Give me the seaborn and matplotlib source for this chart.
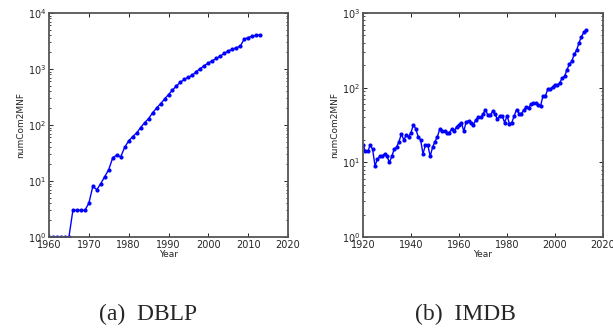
import numpy as np
import pandas as pd
import matplotlib
matplotlib.use("Agg")
import matplotlib.pyplot as plt
import seaborn as sns

dblp_years = list(range(1960, 2014))
dblp_vals = [1, 1, 1, 1, 1, 1, 3, 3, 3, 3,
             4, 8, 7, 9, 12, 16, 26, 29, 27, 40,
             52, 62, 72, 90, 110, 130, 165, 200, 240, 290,
             350, 420, 500, 580, 660, 710, 780, 900, 1020, 1150,
             1280, 1400, 1550, 1700, 1900, 2100, 2250, 2400, 2550, 3400,
             3650, 3850, 4000, 4100]

imdb_years = list(range(1920, 2014))
imdb_vals = [17, 14, 14, 17, 15, 9, 11, 12, 12, 13,
             12, 10, 12, 15, 16, 19, 24, 20, 23, 22,
             25, 32, 28, 22, 20, 13, 17, 17, 12, 16,
             19, 22, 28, 26, 26, 25, 25, 28, 26, 30,
             32, 34, 26, 35, 36, 34, 32, 37, 40, 40,
             44, 51, 43, 43, 48, 44, 38, 42, 42, 34,
             42, 33, 34, 42, 51, 45, 45, 50, 55, 54,
             60, 62, 62, 59, 57, 78, 78, 95, 95, 102,
             110, 108, 116, 135, 142, 175, 205, 225, 280, 317,
             400, 480, 550, 585]

captions = ["(a)  DBLP", "(b)  IMDB"]

sns.set_theme(style="white")
plt.rcParams['font.family'] = ['DejaVu Sans']

fig = plt.figure(figsize=(6.13, 3.28), dpi=100)
W, H = 613, 328
ax1 = fig.add_axes([49 / W, 1 - 237 / H, 239 / W, 224 / H])
ax2 = fig.add_axes([363 / W, 1 - 237 / H, 240 / W, 224 / H])

df1 = pd.DataFrame({"Year": dblp_years, "v": dblp_vals})
df2 = pd.DataFrame({"Year": imdb_years, "v": imdb_vals})

for ax, df, xlim, ylim in [(ax1, df1, (1960, 2020), (1, 1e4)),
                           (ax2, df2, (1920, 2020), (1, 1e3))]:
    sns.lineplot(data=df, x="Year", y="v", ax=ax, color="#0000ff",
                 linewidth=1.0, marker="o", markersize=3, markeredgewidth=0)
    ax.set_yscale("log")
    ax.set_xlim(*xlim)
    ax.set_ylim(*ylim)
    ax.set_xticks(np.arange(xlim[0], xlim[1] + 1, 10 if xlim[0] == 1960 else 20))
    ax.set_xlabel("Year", fontsize=6.5, labelpad=0)
    ax.set_ylabel("numCom2MNF", fontsize=6.5, labelpad=2)
    ax.tick_params(axis="both", which="both", direction="in", top=True, right=True,
                   bottom=True, left=True, labelsize=7, pad=2, color="black")
    ax.tick_params(which="major", length=3, width=0.6)
    ax.tick_params(which="minor", length=1.5, width=0.5)
    ax.xaxis.set_minor_locator(matplotlib.ticker.NullLocator())
    for s in ax.spines.values():
        s.set_color("#555555")
        s.set_linewidth(1.3)
        s.set_visible(True)

fig.text(148 / W, 1 - 314 / H, captions[0], ha="center", va="center",
         fontsize=17, family="Liberation Serif")
fig.text(465 / W, 1 - 314 / H, captions[1], ha="center", va="center",
         fontsize=17, family="Liberation Serif")

fig.savefig("out.png", dpi=100)
